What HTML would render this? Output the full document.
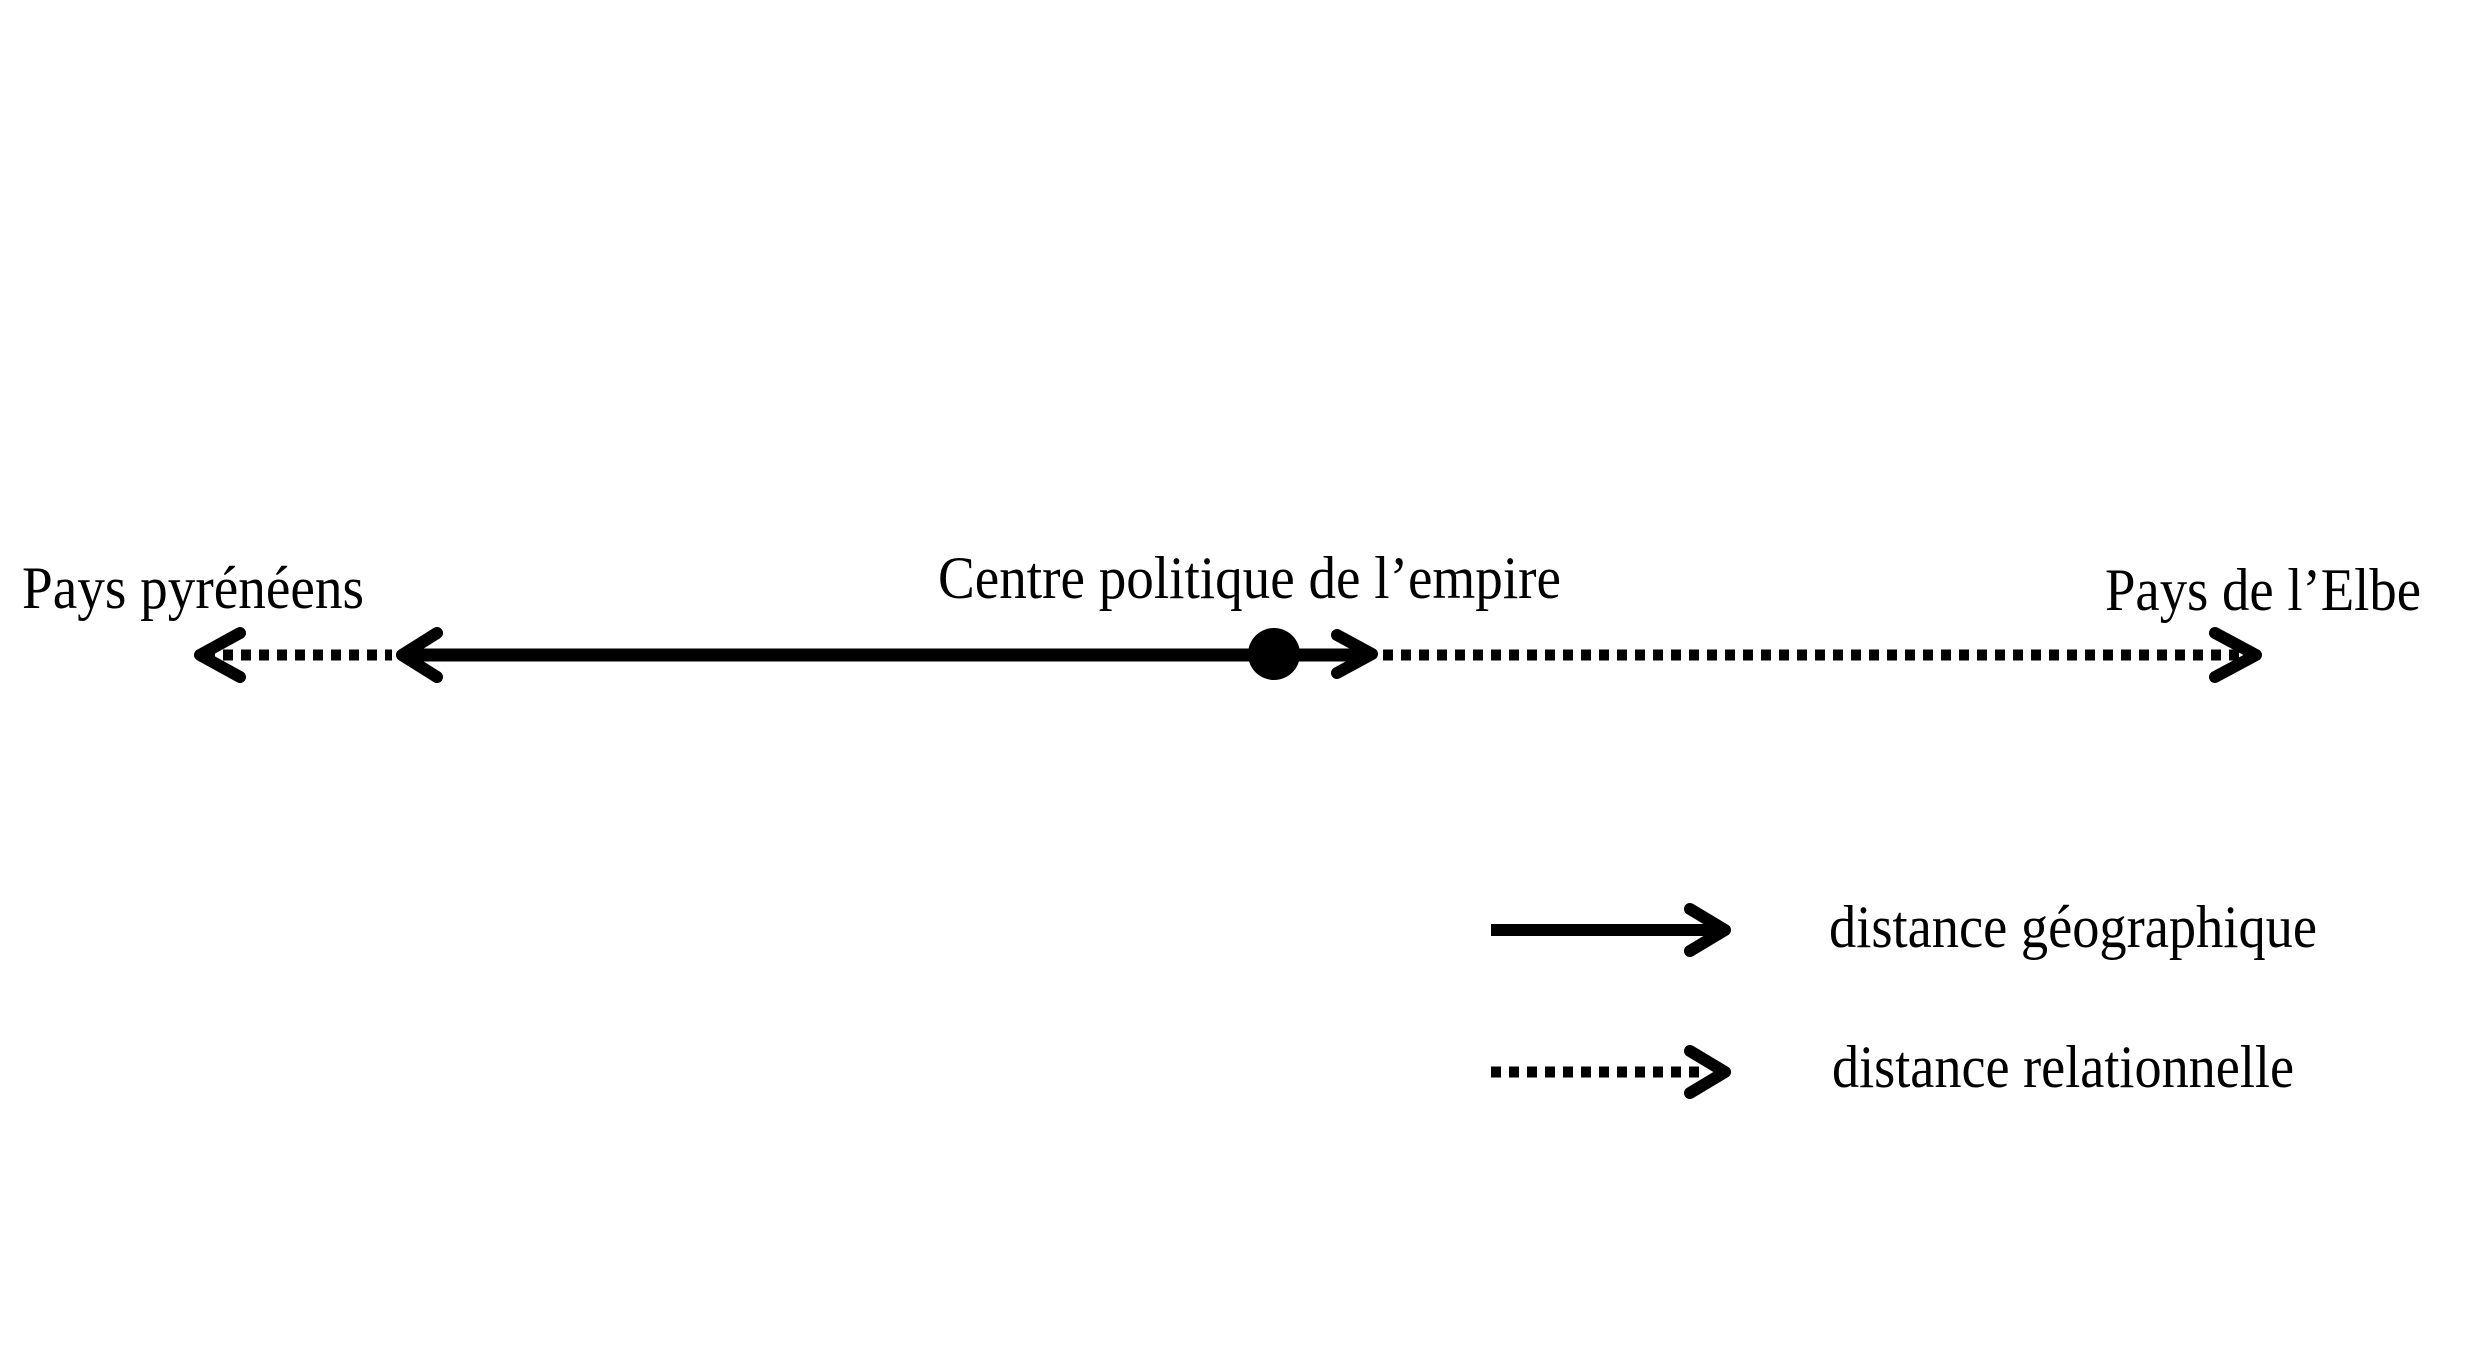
<!DOCTYPE html>
<html><head><meta charset="utf-8"><style>
html,body{margin:0;padding:0;background:#fff;}
svg{display:block;}
text{font-family:"Liberation Serif",serif;font-size:60px;fill:#000;}
</style></head><body>
<svg width="2468" height="1363" viewBox="0 0 2468 1363" xmlns="http://www.w3.org/2000/svg">
<g stroke="#000" fill="none" stroke-linecap="round" stroke-linejoin="round">
 <line x1="205" y1="655" x2="392" y2="655" stroke-width="11" stroke-dasharray="10 8" stroke-linecap="butt"/>
 <polyline points="240,633 200,655 240,677" stroke-width="12"/>
 <line x1="404" y1="655" x2="1370" y2="655" stroke-width="13" stroke-linecap="butt"/>
 <polyline points="437,633 402,655 437,677" stroke-width="12"/>
 <polyline points="1337,635 1372,654 1337,673" stroke-width="12"/>
 <line x1="1383" y1="655" x2="2240" y2="655" stroke-width="11" stroke-dasharray="10 8" stroke-linecap="butt"/>
 <polyline points="2215,633 2256,655 2215,677" stroke-width="12"/>
 <line x1="1491" y1="930" x2="1722" y2="930" stroke-width="12" stroke-linecap="butt"/>
 <polyline points="1690,909 1725,930 1690,951" stroke-width="12"/>
 <line x1="1491" y1="1072" x2="1705" y2="1072" stroke-width="11" stroke-dasharray="10 8" stroke-linecap="butt"/>
 <polyline points="1690,1051 1725,1072 1690,1093" stroke-width="12"/>
</g>
<circle cx="1274" cy="654" r="26" fill="#000"/>
<text x="22" y="608" textLength="342" lengthAdjust="spacingAndGlyphs">Pays pyrénéens</text>
<text x="938" y="598" textLength="623" lengthAdjust="spacingAndGlyphs">Centre politique de l’empire</text>
<text x="2105" y="610" textLength="316" lengthAdjust="spacingAndGlyphs">Pays de l’Elbe</text>
<text x="1829" y="947" textLength="488" lengthAdjust="spacingAndGlyphs">distance géographique</text>
<text x="1832" y="1087" textLength="462" lengthAdjust="spacingAndGlyphs">distance relationnelle</text>
</svg>
</body></html>
